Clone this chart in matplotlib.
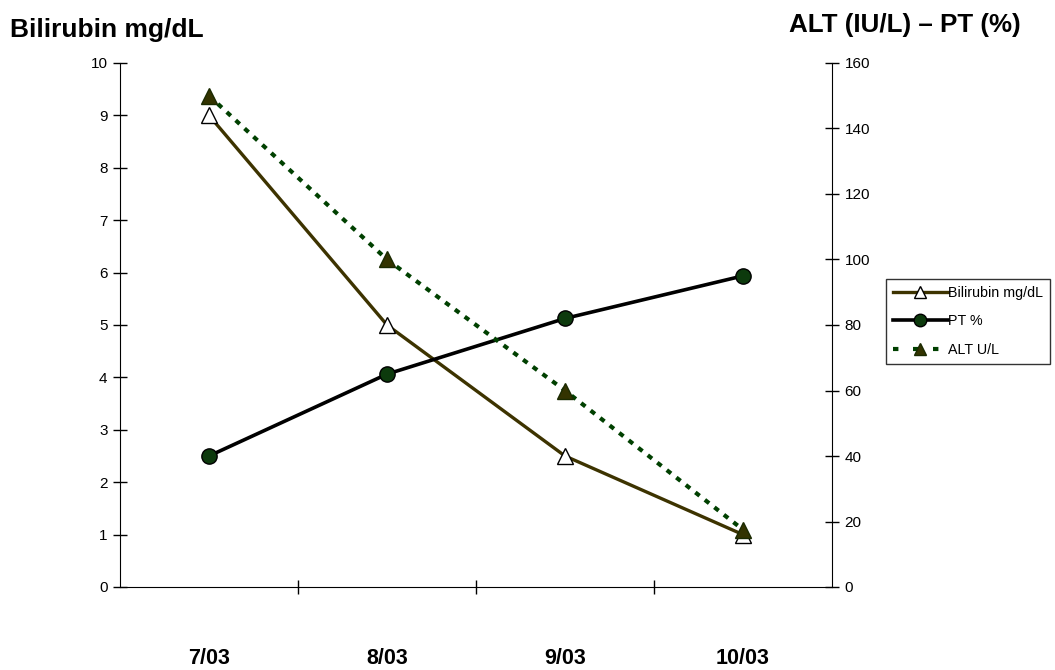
import matplotlib
matplotlib.use("Agg")
import matplotlib.pyplot as plt
from matplotlib.lines import Line2D

plt.rcParams['font.family'] = ['Liberation Sans', 'DejaVu Sans']

categories = ["7/03", "8/03", "9/03", "10/03"]
bilirubin = [9.0, 5.0, 2.5, 1.0]
pt_pct = [40, 65, 82, 95]
alt_ul = [150, 100, 60, 17.5]
left_ticks = list(range(0, 11))
right_ticks = list(range(0, 161, 20))

fig = plt.figure(figsize=(10.55, 6.70), dpi=100)
ax = fig.add_axes([120/1055, 83/670, 712/1055, 524/670])
ax2 = ax.twinx()

x = [i + 0.5 for i in range(len(categories))]

ax.set_xlim(0, 4)
ax.set_ylim(0, 10)
ax2.set_ylim(0, 160)

bil_col = '#3d3300'
alt_col = '#004000'

l1, = ax.plot(x, bilirubin, color=bil_col, lw=2.4, marker='^', markersize=12,
              markerfacecolor='white', markeredgecolor='black', markeredgewidth=1.0, zorder=3)
l2, = ax2.plot(x, pt_pct, color='black', lw=2.6, marker='o', markersize=11,
               markerfacecolor='#0d3a0d', markeredgecolor='black', markeredgewidth=1.0, zorder=3)
l3, = ax2.plot(x, alt_ul, color=alt_col, lw=3.0, linestyle=(0, (1.3, 1.6)), marker='^', markersize=12,
               markerfacecolor='#333300', markeredgecolor='#1a2a00', markeredgewidth=1.0, zorder=4)

for a in (ax, ax2):
    a.spines['top'].set_visible(False)
    a.set_facecolor('none')
ax.spines['right'].set_visible(False)
ax2.spines['left'].set_visible(False)
ax2.spines['bottom'].set_visible(False)

ax.set_yticks(left_ticks)
ax.set_yticklabels([str(t) for t in left_ticks], fontsize=11)
ax2.set_yticks(right_ticks)
ax2.set_yticklabels([str(t) for t in right_ticks], fontsize=11)
ax.tick_params(axis='y', direction='inout', length=10, width=1, pad=4)
ax2.tick_params(axis='y', direction='inout', length=10, width=1, pad=4)

ax.set_xticks([1, 2, 3])
ax.set_xticklabels([])
ax.set_xticks(x, minor=True)
ax.set_xticklabels(categories, minor=True, fontsize=15.5, fontweight='bold')
ax.tick_params(axis='x', which='major', direction='inout', length=10, width=1)
ax.tick_params(axis='x', which='minor', length=0, pad=44)

fig.text(10/1055, 1 - 30/670, "Bilirubin mg/dL", fontsize=19, fontweight='bold', va='center', ha='left')
fig.text(1021/1055, 1 - 25/670, "ALT (IU/L) – PT (%)", fontsize=18.7, fontweight='bold', va='center', ha='right')

handles = [
    Line2D([], [], color=bil_col, lw=2.4, marker='^', markersize=9, markerfacecolor='white', markeredgecolor='black'),
    Line2D([], [], color='black', lw=2.6, marker='o', markersize=9, markerfacecolor='#0d3a0d', markeredgecolor='black'),
    Line2D([], [], color=alt_col, lw=3.0, linestyle=(0, (1.3, 3.5)), marker='^', markersize=9, markerfacecolor='#333300', markeredgecolor='#1a2a00'),
]
leg = fig.legend(handles, ["Bilirubin mg/dL", "PT %", "ALT U/L"], loc='upper left',
                 bbox_to_anchor=(886/1055, 1 - 279/670), fontsize=10.3, frameon=True, fancybox=False,
                 handlelength=3.8, handletextpad=0.0, borderpad=0.5, labelspacing=1.0, borderaxespad=0)
leg.get_frame().set_edgecolor('black')
leg.get_frame().set_linewidth(1.0)

fig.savefig("out.png", dpi=100)
